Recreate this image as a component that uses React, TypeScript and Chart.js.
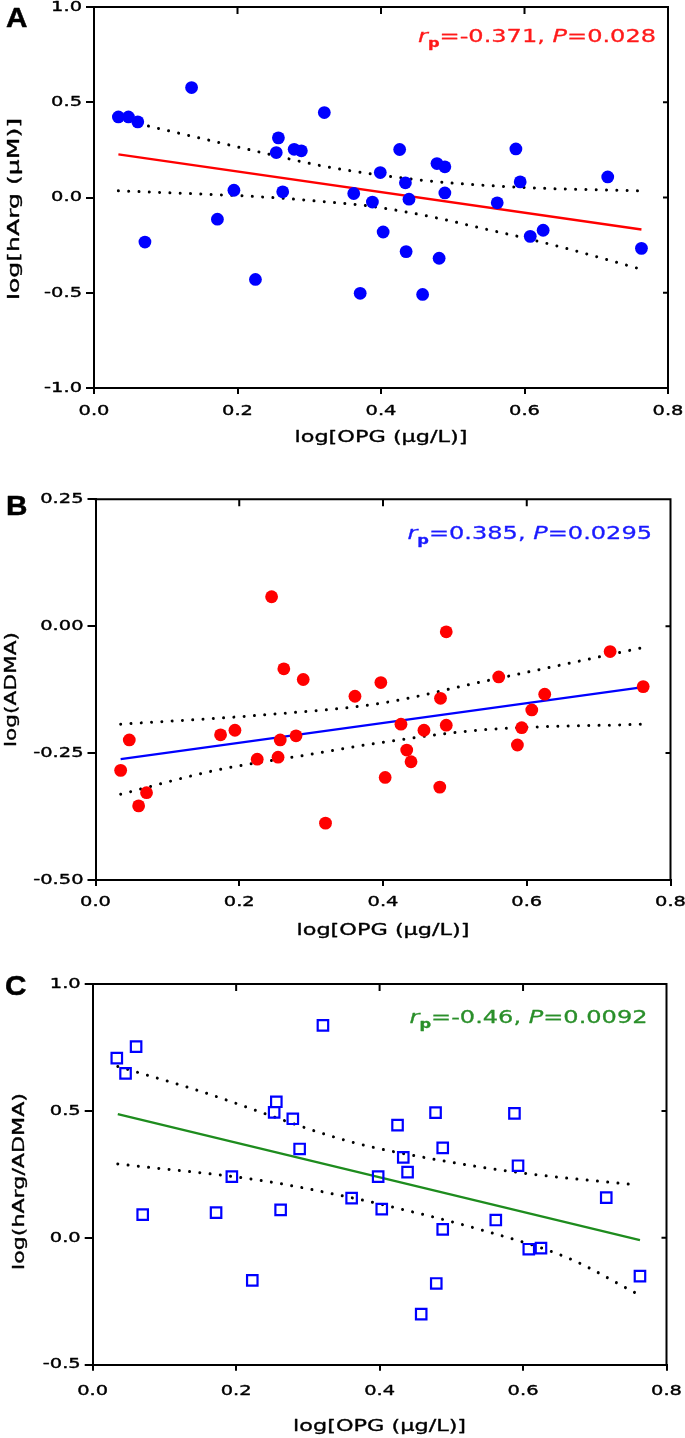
import React, { useEffect, useRef } from 'react';
import { Chart, registerables } from 'chart.js';

Chart.register(...registerables);

// ---------------- Data ----------------
const xTickValues = [0, 0.2, 0.4, 0.6, 0.8];
const xTickLabels = ['0.0', '0.2', '0.4', '0.6', '0.8'];

const yTickValuesA = [-1, -0.5, 0, 0.5, 1];
const yTickLabelsA = ['-1.0', '-0.5', '0.0', '0.5', '1.0'];
const yTickValuesB = [-0.5, -0.25, 0, 0.25];
const yTickLabelsB = ['-0.50', '-0.25', '0.00', '0.25'];
const yTickValuesC = [-0.5, 0, 0.5, 1];
const yTickLabelsC = ['-0.5', '0.0', '0.5', '1.0'];

// Panel A: log[OPG] vs log[hArg]
const opgA = [0.034, 0.048, 0.061, 0.071, 0.136, 0.172, 0.195, 0.225, 0.254, 0.257, 0.263, 0.279, 0.289, 0.321, 0.362, 0.371, 0.388, 0.399, 0.403, 0.426, 0.434, 0.435, 0.439, 0.458, 0.478, 0.481, 0.489, 0.489, 0.562, 0.588, 0.594, 0.608, 0.626, 0.716, 0.763];
const hArgA = [0.423, 0.423, 0.397, -0.234, 0.577, -0.114, 0.038, -0.430, 0.236, 0.313, 0.030, 0.253, 0.245, 0.446, 0.021, -0.503, -0.024, 0.131, -0.181, 0.252, 0.077, -0.284, -0.009, -0.509, 0.178, -0.319, 0.161, 0.024, -0.028, 0.255, 0.082, -0.204, -0.172, 0.108, -0.267];
const fitAx = [0.034, 0.763];
const fitAy = [0.226, -0.168];
const upperAx = [0.034, 0.077, 0.15, 0.236, 0.315, 0.4, 0.48, 0.54, 0.602, 0.663, 0.763];
const upperAy = [0.413, 0.374, 0.31, 0.234, 0.168, 0.117, 0.082, 0.065, 0.052, 0.044, 0.035];
const lowerAx = [0.034, 0.15, 0.236, 0.315, 0.388, 0.48, 0.54, 0.602, 0.663, 0.763];
const lowerAy = [0.035, 0.018, 0.003, -0.02, -0.047, -0.109, -0.161, -0.214, -0.272, -0.377];

// Panel B: log[OPG] vs log(ADMA)
const opgB = [0.035, 0.047, 0.060, 0.071, 0.174, 0.194, 0.225, 0.245, 0.254, 0.257, 0.262, 0.279, 0.289, 0.320, 0.361, 0.397, 0.403, 0.425, 0.433, 0.439, 0.457, 0.479, 0.480, 0.488, 0.488, 0.561, 0.587, 0.593, 0.607, 0.625, 0.716, 0.762];
const admaB = [-0.284, -0.224, -0.354, -0.328, -0.214, -0.205, -0.262, 0.058, -0.258, -0.224, -0.084, -0.216, -0.105, -0.388, -0.138, -0.111, -0.298, -0.193, -0.244, -0.267, -0.205, -0.317, -0.142, -0.011, -0.195, -0.100, -0.234, -0.200, -0.165, -0.134, -0.050, -0.119];
const fitBx = [0.035, 0.762];
const fitBy = [-0.262, -0.120];
const upperBx = [0.035, 0.231, 0.396, 0.536, 0.762];
const upperBy = [-0.193, -0.175, -0.152, -0.11, -0.042];
const lowerBx = [0.035, 0.17, 0.292, 0.396, 0.536, 0.762];
const lowerBy = [-0.331, -0.283, -0.254, -0.2295, -0.2045, -0.193];

// Panel C: log[OPG] vs log(hArg/ADMA)
const opgC = [0.0336, 0.0458, 0.0605, 0.0697, 0.172, 0.194, 0.2225, 0.253, 0.256, 0.262, 0.279, 0.2885, 0.321, 0.361, 0.398, 0.403, 0.425, 0.433, 0.439, 0.458, 0.478, 0.479, 0.488, 0.488, 0.562, 0.588, 0.593, 0.608, 0.625, 0.716, 0.763];
const ratioC = [0.708, 0.648, 0.753, 0.091, 0.099, 0.241, -0.168, 0.494, 0.536, 0.110, 0.469, 0.350, 0.837, 0.156, 0.241, 0.113, 0.444, 0.317, 0.259, -0.301, 0.493, -0.180, 0.354, 0.0335, 0.070, 0.490, 0.284, -0.045, -0.041, 0.158, -0.151];
const fitCx = [0.035, 0.763];
const fitCy = [0.487, -0.009];
const upperCx = [0.035, 0.145, 0.359, 0.481, 0.603, 0.759];
const upperCy = [0.675, 0.582, 0.379, 0.307, 0.254, 0.208];
const lowerCx = [0.035, 0.2365, 0.359, 0.42, 0.542, 0.664, 0.756];
const lowerCy = [0.291, 0.225, 0.159, 0.12, 0.031, -0.081, -0.216];

const corrR = ['-0.371', '0.385', '-0.46'];
const corrP = ['0.028', '0.0295', '0.0092'];

// ---------------- Helpers ----------------
const FONT = '"DejaVu Sans", Verdana, sans-serif';
const BOLDFONT = '"Liberation Sans", Arial, sans-serif';

const zip = (xs: number[], ys: number[]) => xs.map((x, i) => ({ x, y: ys[i] }));

type TxtOpts = {
  size: number;
  weight?: string;
  style?: string;
  family?: string;
  color?: string;
  align?: CanvasTextAlign;
  baseline?: CanvasTextBaseline;
  sx?: number;
  width?: number;
  rotate?: number;
  stroke?: number;
};

function txt(ctx: CanvasRenderingContext2D, s: string, x: number, y: number, o: TxtOpts) {
  ctx.save();
  ctx.translate(x, y);
  if (o.rotate) ctx.rotate(o.rotate);
  ctx.font = `${o.style || 'normal'} ${o.weight || 'normal'} ${o.size}px ${o.family || FONT}`;
  let sx = o.sx ?? 1;
  if (o.width) sx = o.width / ctx.measureText(s).width;
  ctx.scale(sx, 1);
  ctx.fillStyle = o.color || '#000';
  ctx.textAlign = o.align || 'left';
  ctx.textBaseline = o.baseline || 'alphabetic';
  ctx.fillText(s, 0, 0);
  if (o.stroke) {
    ctx.strokeStyle = o.color || '#000';
    ctx.lineWidth = o.stroke;
    ctx.lineJoin = 'round';
    ctx.strokeText(s, 0, 0);
  }
  ctx.restore();
}

type PanelCfg = {
  top: number;
  height: number;
  pad: { top: number; left: number; right: number; bottom: number };
  pts: { x: number; y: number }[];
  fit: { x: number; y: number }[];
  upper: { x: number; y: number }[];
  lower: { x: number; y: number }[];
  yMin: number;
  yMax: number;
  yTicks: number[];
  yLabels: string[];
  rightTicks: number[];
  pointColor: string;
  pointFill: string;
  pointStyle: string;
  pointRadius: number;
  pointBorder: number;
  fitColor: string;
  annColor: string;
  r: string;
  p: string;
  annRight: number;
  annBase: number;
  letter: string;
  letterX: number;
  letterBase: number;
  yTitle: string;
  yTitleX: number;
  yTitleY: number;
  yTitleLen: number;
  xLabelY: number;
  xTitleY: number;
};

const panels: PanelCfg[] = [
  {
    top: 0, height: 460,
    pad: { top: 7, left: 86, right: 17, bottom: 66 },
    pts: zip(opgA, hArgA), fit: zip(fitAx, fitAy), upper: zip(upperAx, upperAy), lower: zip(lowerAx, lowerAy),
    yMin: -1, yMax: 1, yTicks: yTickValuesA, yLabels: yTickLabelsA, rightTicks: [0.5, 0, -0.5],
    pointColor: '#0000ff', pointFill: '#0000ff', pointStyle: 'circle', pointRadius: 6.4, pointBorder: 0,
    fitColor: '#ff0000', annColor: '#ff1a1a', r: corrR[0], p: corrP[0], annRight: 656, annBase: 41.5,
    letter: 'A', letterX: 6, letterBase: 27,
    yTitle: 'log[hArg (µM)]', yTitleX: 14.5, yTitleY: 209, yTitleLen: 182,
    xLabelY: 411.5, xTitleY: 438,
  },
  {
    top: 460, height: 490,
    pad: { top: 39.3, left: 87.5, right: 14.5, bottom: 64 },
    pts: zip(opgB, admaB), fit: zip(fitBx, fitBy), upper: zip(upperBx, upperBy), lower: zip(lowerBx, lowerBy),
    yMin: -0.5, yMax: 0.25, yTicks: yTickValuesB, yLabels: yTickLabelsB, rightTicks: [0, -0.25],
    pointColor: '#ff0000', pointFill: '#ff0000', pointStyle: 'circle', pointRadius: 6.4, pointBorder: 0,
    fitColor: '#0000ff', annColor: '#1a1aff', r: corrR[1], p: corrP[1], annRight: 652, annBase: 79,
    letter: 'B', letterX: 6, letterBase: 55,
    yTitle: 'log(ADMA)', yTitleX: 11.5, yTitleY: 229.5, yTitleLen: 115,
    xLabelY: 442.5, xTitleY: 471,
  },
  {
    top: 950, height: 488,
    pad: { top: 34, left: 84.7, right: 18.5, bottom: 67.3 },
    pts: zip(opgC, ratioC), fit: zip(fitCx, fitCy), upper: zip(upperCx, upperCy), lower: zip(lowerCx, lowerCy),
    yMin: -0.5, yMax: 1, yTicks: yTickValuesC, yLabels: yTickLabelsC, rightTicks: [0.5, 0],
    pointColor: '#0000ff', pointFill: 'rgba(0,0,0,0)', pointStyle: 'rect', pointRadius: 7.4, pointBorder: 2.2,
    fitColor: '#1e8c1e', annColor: '#2a8f2a', r: corrR[2], p: corrP[2], annRight: 647.5, annBase: 72.5,
    letter: 'C', letterX: 5, letterBase: 45,
    yTitle: 'log(hArg/ADMA)', yTitleX: 20, yTitleY: 231.5, yTitleLen: 177,
    xLabelY: 441, xTitleY: 476.5,
  },
];

function makePlugin(cfg: PanelCfg) {
  return {
    id: 'panelDecor',
    afterDraw(chart: any) {
      const ctx: CanvasRenderingContext2D = chart.ctx;
      const a = chart.chartArea;
      const xs = chart.scales.x;
      const ys = chart.scales.y;
      ctx.save();
      // top and right frame
      ctx.strokeStyle = '#000';
      ctx.lineWidth = 2;
      ctx.beginPath();
      ctx.moveTo(a.left - 1, a.top);
      ctx.lineTo(a.right, a.top);
      ctx.lineTo(a.right, a.bottom + 1);
      ctx.stroke();
      // inward ticks on top and right
      ctx.beginPath();
      xTickValues.slice(1, -1).forEach((v) => {
        const px = xs.getPixelForValue(v);
        ctx.moveTo(px, a.top);
        ctx.lineTo(px, a.top + 7);
      });
      cfg.rightTicks.forEach((v) => {
        const py = ys.getPixelForValue(v);
        ctx.moveTo(a.right, py);
        ctx.lineTo(a.right - 5, py);
      });
      ctx.stroke();
      ctx.restore();

      // tick labels
      cfg.yTicks.forEach((v, i) => {
        txt(ctx, cfg.yLabels[i], a.left - 12, ys.getPixelForValue(v), { size: 14.5, sx: 1.34, align: 'right', baseline: 'middle', stroke: 0.4 });
      });
      xTickValues.forEach((v, i) => {
        txt(ctx, xTickLabels[i], xs.getPixelForValue(v), cfg.xLabelY, { size: 14.5, sx: 1.34, align: 'center', baseline: 'middle', stroke: 0.4 });
      });
      // axis titles
      txt(ctx, 'log[OPG (µg/L)]', (a.left + a.right) / 2, cfg.xTitleY, { size: 16.5, width: 173, align: 'center', baseline: 'middle', stroke: 0.35 });
      txt(ctx, cfg.yTitle, cfg.yTitleX, cfg.yTitleY, { size: 16.5, width: cfg.yTitleLen, align: 'center', baseline: 'middle', rotate: -Math.PI / 2, stroke: 0.35 });
      // panel letter
      txt(ctx, cfg.letter, cfg.letterX, cfg.letterBase, { size: 27, weight: 'bold', family: BOLDFONT, sx: 1.1, stroke: 0.5 });

      // annotation r_p = ..., P = ...
      const sx = 1.3;
      const big = 18.5;
      const segs = [
        { t: 'r', style: 'italic', weight: 'normal', size: big, dy: 0 },
        { t: 'p', style: 'normal', weight: 'bold', size: 12.5, dy: 5 },
        { t: '=' + cfg.r + ', ', style: 'normal', weight: 'normal', size: big, dy: 0 },
        { t: 'P', style: 'italic', weight: 'normal', size: big, dy: 0 },
        { t: '=' + cfg.p, style: 'normal', weight: 'normal', size: big, dy: 0 },
      ];
      ctx.save();
      const widths = segs.map((s) => {
        ctx.font = `${s.style} ${s.weight} ${s.size}px ${FONT}`;
        return ctx.measureText(s.t).width * sx;
      });
      ctx.restore();
      const total = widths.reduce((p, c) => p + c, 0);
      let x0 = cfg.annRight - total;
      segs.forEach((s, i) => {
        txt(ctx, s.t, x0, cfg.annBase + s.dy, { size: s.size, style: s.style, weight: s.weight, sx, color: cfg.annColor, stroke: 0.3 });
        x0 += widths[i];
      });
    },
  };
}

function Panel({ cfg }: { cfg: PanelCfg }) {
  const ref = useRef<HTMLCanvasElement | null>(null);
  useEffect(() => {
    if (!ref.current) return;
    const dotted = {
      borderColor: '#000',
      borderWidth: 3,
      borderDash: [0.01, 10.3],
      borderCapStyle: 'round' as const,
      pointRadius: 0,
      fill: false,
      showLine: true,
      cubicInterpolationMode: 'monotone' as const,
    };
    const chart = new Chart(ref.current, {
      type: 'scatter',
      data: {
        datasets: [
          {
            type: 'scatter',
            data: cfg.pts,
            pointStyle: cfg.pointStyle as any,
            pointRadius: cfg.pointRadius,
            pointBorderWidth: cfg.pointBorder,
            pointBackgroundColor: cfg.pointFill,
            pointBorderColor: cfg.pointColor,
            backgroundColor: cfg.pointFill,
            borderColor: cfg.pointColor,
            order: 0,
          } as any,
          {
            type: 'line',
            data: cfg.fit,
            borderColor: cfg.fitColor,
            borderWidth: 2.3,
            pointRadius: 0,
            fill: false,
            order: 1,
          } as any,
          { type: 'line', data: cfg.upper, ...dotted, order: 2 } as any,
          { type: 'line', data: cfg.lower, ...dotted, order: 2 } as any,
        ],
      },
      options: {
        responsive: false,
        animation: false,
        devicePixelRatio: 1,
        events: [],
        layout: { padding: cfg.pad },
        plugins: { legend: { display: false }, tooltip: { enabled: false }, title: { display: false } },
        scales: {
          x: {
            type: 'linear',
            min: 0,
            max: 0.8,
            afterBuildTicks: (s: any) => {
              s.ticks = xTickValues.map((v) => ({ value: v }));
            },
            ticks: { display: false },
            grid: { display: true, drawOnChartArea: false, drawTicks: true, tickLength: 6, lineWidth: 2, color: '#000' },
            border: { display: true, color: '#000', width: 2 },
          },
          y: {
            type: 'linear',
            min: cfg.yMin,
            max: cfg.yMax,
            afterBuildTicks: (s: any) => {
              s.ticks = cfg.yTicks.map((v) => ({ value: v }));
            },
            ticks: { display: false },
            grid: { display: true, drawOnChartArea: false, drawTicks: true, tickLength: 8, lineWidth: 2, color: '#000' },
            border: { display: true, color: '#000', width: 2 },
          },
        },
      } as any,
      plugins: [makePlugin(cfg)],
    });
    return () => chart.destroy();
  }, [cfg]);
  return (
    <canvas
      ref={ref}
      width={685}
      height={cfg.height}
      style={{ position: 'absolute', left: 0, top: cfg.top, width: 685, height: cfg.height, display: 'block' }}
    />
  );
}

export default function App() {
  return (
    <div style={{ position: 'absolute', left: 0, top: 0, width: 685, height: 1438, background: '#fff', overflow: 'hidden' }}>
      {panels.map((p, i) => (
        <Panel key={i} cfg={p} />
      ))}
    </div>
  );
}
